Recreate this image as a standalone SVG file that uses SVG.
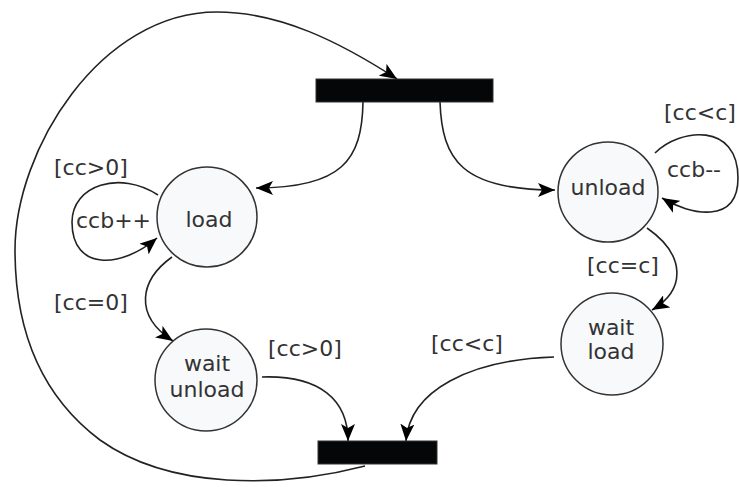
<svg xmlns="http://www.w3.org/2000/svg" width="739" height="487" viewBox="0 0 739 487">
<style>
.st{fill:#f7f9fa;stroke:#333;stroke-width:1.5}
.bar{fill:#050608;stroke:#333;stroke-width:1}
.t{font-family:"DejaVu Sans",Verdana,sans-serif;font-size:22px;fill:#333}
.m{text-anchor:middle}
.c{fill:none;stroke:#222;stroke-width:1.6}
</style>
<defs>
<marker id="ah" markerUnits="userSpaceOnUse" markerWidth="18" markerHeight="14" refX="17" refY="7" orient="auto">
<path d="M0,0 L17,7 L0,14 L4,7 Z" fill="#000"/>
</marker>
</defs>
<g id="connectors">
<path class="c" marker-end="url(#ah)" d="M365,466 C280,488 170,490 100,440 C40,395 15,330 15,250 C15,150 100,12 217,12 C280,12 340,42 397,79"/>
<path class="c" marker-end="url(#ah)" d="M363,102 C362,160 342,188 256,188"/>
<path class="c" marker-end="url(#ah)" d="M440,102 C442,160 462,190 555,190"/>
<path class="c" marker-end="url(#ah)" d="M655,153 C680,128 738,122 738,178 C738,225 690,215 662,198"/>
<path class="c" marker-end="url(#ah)" d="M158,195 C120,170 72,185 72,222 C72,272 122,268 157,238"/>
<path class="c" marker-end="url(#ah)" d="M172,257 C140,280 133,315 173,341"/>
<path class="c" marker-end="url(#ah)" d="M647,228 C686,255 686,290 652,310"/>
<path class="c" marker-end="url(#ah)" d="M262,377 C320,375 348,400 348,441"/>
<path class="c" marker-end="url(#ah)" d="M554,357 C470,360 410,390 406,441"/>
</g>
<g id="fork-top"><rect class="bar" x="316" y="79" width="177" height="23"/></g>
<g id="join-bottom"><rect class="bar" x="318" y="441" width="119" height="23"/></g>
<g id="load"><circle class="st" cx="207" cy="217" r="50"/><text class="t m" x="209" y="227">load</text></g>
<g id="unload"><circle class="st" cx="608" cy="192" r="50"/><text class="t m" x="608" y="195">unload</text></g>
<g id="wait-unload"><circle class="st" cx="206" cy="380" r="51"/><text class="t m" x="207" y="371">wait</text><text class="t m" x="207" y="397">unload</text></g>
<g id="wait-load"><circle class="st" cx="612" cy="344" r="51"/><text class="t m" x="611" y="335">wait</text><text class="t m" x="611" y="359">load</text></g>
<g id="labels">
<text class="t" x="54" y="175">[cc&gt;0]</text>
<text class="t" x="76" y="228">ccb++</text>
<text class="t" x="54" y="310">[cc=0]</text>
<text class="t" x="268" y="356">[cc&gt;0]</text>
<text class="t" x="587" y="273">[cc=c]</text>
<text class="t" x="431" y="351">[cc&lt;c]</text>
<text class="t" x="664" y="120">[cc&lt;c]</text>
<text class="t" x="667" y="177">ccb--</text>
</g>
</svg>
